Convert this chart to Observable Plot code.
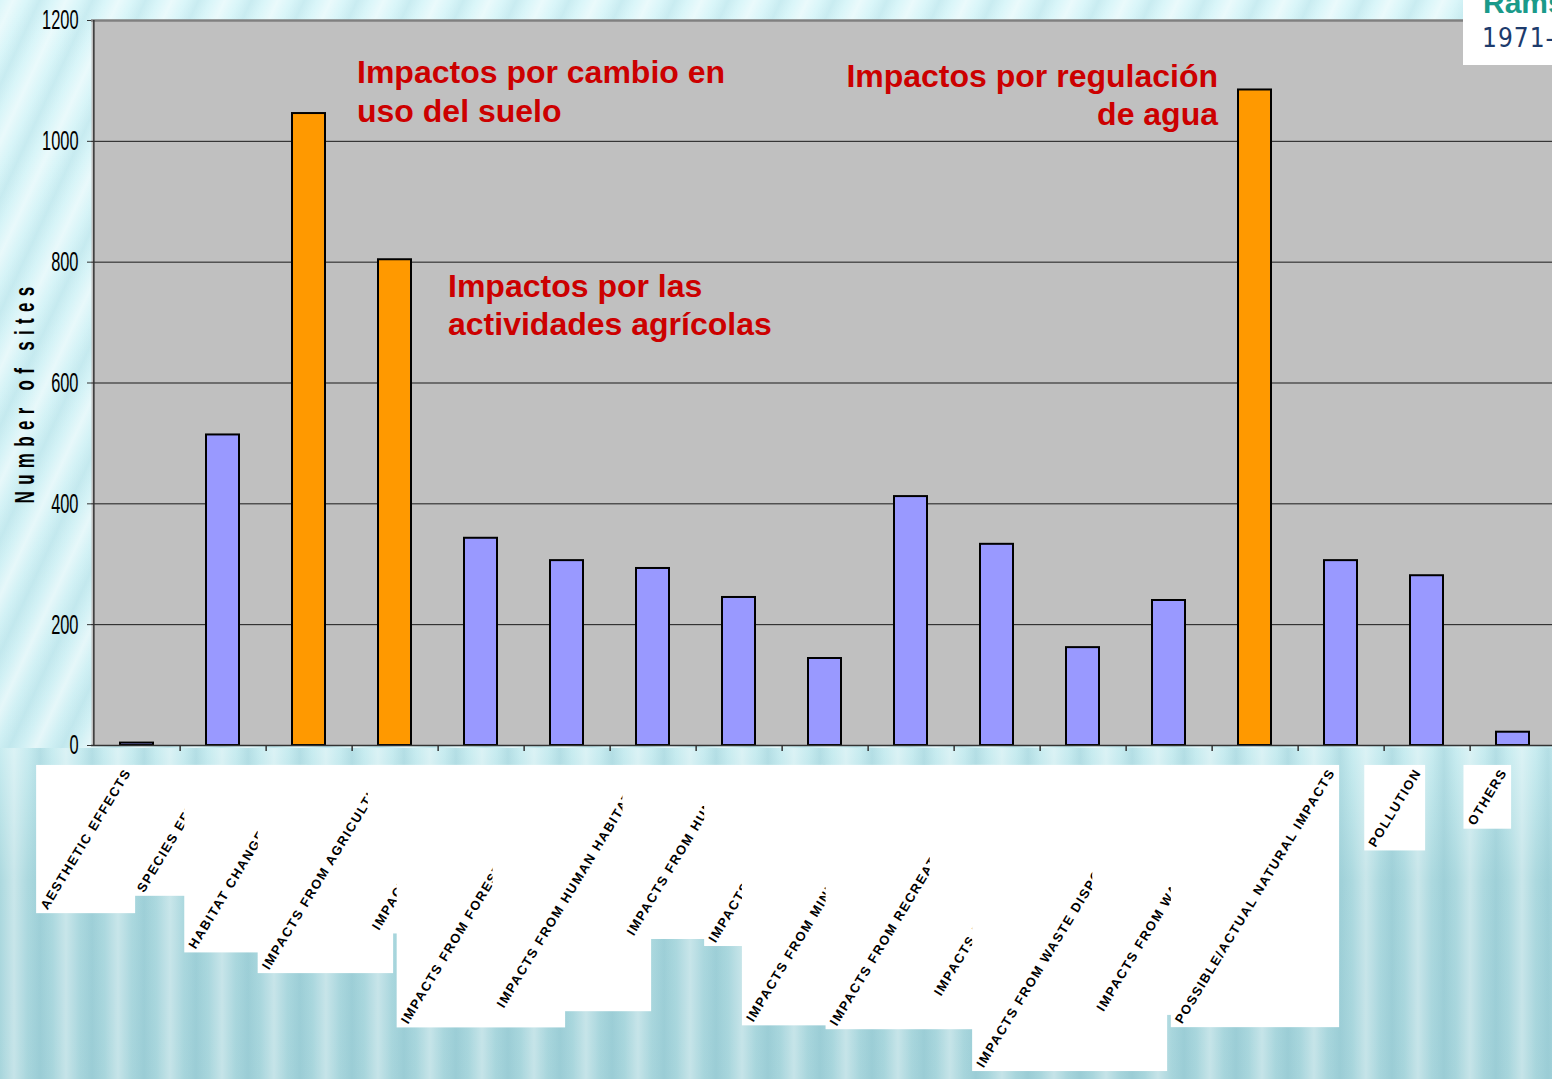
<!DOCTYPE html>
<html>
<head>
<meta charset="utf-8">
<script src="https://cdn.jsdelivr.net/npm/d3@7"></script>
<script src="https://cdn.jsdelivr.net/npm/@observablehq/plot@0.6"></script>
<style>
html, body { margin: 0; padding: 0; overflow: hidden; width: 1552px; height: 1079px; }
#bg-top { position: absolute; left: 0; top: 0; width: 1552px; height: 748px;
  background:
    repeating-linear-gradient(115deg, rgba(255,255,255,0) 0px, rgba(255,255,255,0.45) 12px, rgba(255,255,255,0) 24px, rgba(140,200,212,0.22) 36px, rgba(255,255,255,0) 48px),
    linear-gradient(#daf6f9, #d0f0f4); }
#bg-bot { position: absolute; left: 0; top: 748px; width: 1552px; height: 331px;
  background:
    repeating-linear-gradient(90deg, rgba(255,255,255,0) 0px, rgba(255,255,255,0.35) 14px, rgba(255,255,255,0) 28px, rgba(110,175,190,0.22) 40px, rgba(255,255,255,0) 52px),
    linear-gradient(#c8ecf0, #acd9df 40%, #a7d5dc); }
#chart { position: absolute; left: 0; top: 0; }
#logo { position: absolute; left: 1463px; top: 0; width: 89px; height: 65px; background: #fff; overflow: hidden; }
#logo .ram { position: absolute; left: 20px; top: -12px; font: bold 30px 'Liberation Sans Narrow', 'Liberation Sans', sans-serif; line-height: 1; color: #1a9a8a; white-space: nowrap; }
#logo .yr { position: absolute; left: 19px; top: 25px; font: 26px 'DejaVu Sans Condensed', 'DejaVu Sans', sans-serif; line-height: 1; color: #1d3b6c; letter-spacing: 1px; white-space: nowrap; }
</style>
</head>
<body>
<div id="bg-top"></div>
<div id="bg-bot"></div>
<div id="chart"></div>
<div id="logo"><div class="ram">Ramsar</div><div class="yr">1971-</div></div>
<script>
// ---- data ----
const categories = [
  "AESTHETIC EFFECTS",
  "SPECIES EFFECTS",
  "HABITAT CHANGE/DAMAGE",
  "IMPACTS FROM AGRICULTURE",
  "IMPACTS FROM FISHING",
  "IMPACTS FROM FORESTRY ACTIVITIES",
  "IMPACTS FROM HUMAN HABITATION",
  "IMPACTS FROM HUNTING",
  "IMPACTS FROM INDUSTRY",
  "IMPACTS FROM MINING / EXTRACTION",
  "IMPACTS FROM RECREATION/TOURISM",
  "IMPACTS FROM TRANSPORTATION",
  "IMPACTS FROM WASTE DISPOSAL / DUMPING",
  "IMPACTS FROM WATER REGULATION",
  "POSSIBLE/ACTUAL NATURAL IMPACTS",
  "POLLUTION",
  "OTHERS"
];
const sites = [4, 514, 1046, 804, 343, 306, 293, 245, 144, 412, 333, 162, 240, 1085, 306, 281, 22];
const highlighted = ["HABITAT CHANGE/DAMAGE", "IMPACTS FROM AGRICULTURE", "IMPACTS FROM WATER REGULATION"];
const yTicks = [0, 200, 400, 600, 800, 1000, 1200];
const gridValues = [200, 400, 600, 800, 1000];
const yTitle = "Number of sites";
const annotationText = ["Impactos por cambio en\nuso del suelo", "Impactos por las\nactividades agrícolas", "Impactos por regulación\nde agua"];
const annotationCategory = ["HABITAT CHANGE/DAMAGE", "IMPACTS FROM AGRICULTURE", "IMPACTS FROM WATER REGULATION"];
const annotationY = [1141, 788, 1135];

// ---- build ----
const data = categories.map((c, i) => ({category: c, sites: sites[i], hi: highlighted.includes(c)}));
const annotations = annotationText.map((t, i) => ({text: t, category: annotationCategory[i], y: annotationY[i]}));

const W = 1552, H = 1079, mL = 91, mT = 20, mB = 334, xEnd = 1558;
const step = (xEnd - mL) / categories.length;
const red = "#cc0000";
const font = "'Liberation Sans', Arial, sans-serif";
const annotStyle = {x: "category", y: "y", text: "text", lineAnchor: "top", lineHeight: 1.2, fontSize: 32, fontWeight: "bold", fill: red};

const plot = Plot.plot({
  width: W, height: H,
  marginLeft: mL, marginTop: mT, marginBottom: mB, marginRight: 0,
  style: {background: "transparent", fontFamily: font, overflow: "hidden"},
  x: {domain: categories, range: [mL, xEnd], paddingInner: 0.615, paddingOuter: 0.3075, axis: null},
  y: {domain: [0, 1200], axis: null},
  marks: [
    Plot.frame({fill: "#c0c0c0"}),
    Plot.ruleY(gridValues, {stroke: "#1a1a1a", strokeWidth: 1}),
    Plot.ruleY([1200], {stroke: "#808080", strokeWidth: 2.5}),
    Plot.barY(data, {x: "category", y: "sites", fill: d => d.hi ? "#ff9900" : "#9999ff", stroke: "#000", strokeWidth: 2}),
    Plot.ruleY([0], {stroke: "#333", strokeWidth: 1.5}),
    Plot.ruleX(categories, {x: d => d, y1: 0, y2: -10, dx: step / 2, stroke: "#333", strokeWidth: 1.5}),
    Plot.ruleX([categories[0]], {x: d => d, y1: 0, y2: 1200, dx: -step / 2, stroke: "#333", strokeWidth: 1.5}),
    Plot.axisY({ticks: yTicks, tickSize: 4, tickPadding: 9, fontSize: 20, tickFormat: d => String(d), stroke: "#333", label: null}),
    // text marks (order matters for post-processing below)
    Plot.text([yTitle], {frameAnchor: "left", textAnchor: "middle", dx: -66, dy: 9, rotate: -90, fontSize: 20, fontWeight: "bold", fill: "#000"}),
    Plot.text([annotations[0]], {...annotStyle, textAnchor: "start", dx: 48}),
    Plot.text([annotations[1]], {...annotStyle, textAnchor: "start", dx: 53}),
    Plot.text([annotations[2]], {...annotStyle, textAnchor: "end", dx: -37}),
    Plot.text(categories, {x: d => d, y: 0, text: d => d, rotate: -58.7, textAnchor: "end", lineAnchor: "middle",
      dx: -9, dy: 24.5, fontSize: 13, fontWeight: "bold", fill: "#000"})
  ]
});

document.getElementById("chart").append(plot);
const svg = plot.tagName.toLowerCase() === "svg" ? plot : plot.querySelector("svg");
const NS = "http://www.w3.org/2000/svg";

function stretch(t, sx, sy) {
  const tr = t.getAttribute("transform");
  if (tr) t.setAttribute("transform", tr + ` scale(${sx},${sy})`);
  else {
    const x = +t.getAttribute("x") || 0, y = +t.getAttribute("y") || 0;
    t.setAttribute("transform", `translate(${x},${y}) scale(${sx},${sy}) translate(${-x},${-y})`);
  }
}

// narrow, tall y tick labels
svg.querySelectorAll('g[aria-label="y-axis tick label"] text').forEach(t => stretch(t, 0.82, 1.4));

const textGroups = Array.from(svg.querySelectorAll('g[aria-label="text"]'));
const titleG = textGroups[0];
const labelG = textGroups[textGroups.length - 1];

// y title
if (titleG) {
  const tt = titleG.querySelector("text");
  tt.style.letterSpacing = "7.4px";
  stretch(tt, 0.85, 1.4);
}

// x labels on white boxes, each later box covering the previous label
if (labelG) {
  const texts = Array.from(labelG.querySelectorAll("text"));
  texts.forEach(t => { t.style.letterSpacing = "1.5px"; });
  const inv = labelG.getScreenCTM().inverse();
  const toLocal = (x, y) => new DOMPoint(x, y).matrixTransform(inv);
  texts.forEach(t => {
    const r = t.getBoundingClientRect();
    const p1 = toLocal(r.left - 1, r.top - 1), p2 = toLocal(r.right + 1, r.bottom + 1);
    const rect = document.createElementNS(NS, "rect");
    rect.setAttribute("x", p1.x); rect.setAttribute("y", p1.y);
    rect.setAttribute("width", p2.x - p1.x); rect.setAttribute("height", p2.y - p1.y);
    rect.setAttribute("fill", "#fff");
    rect.setAttribute("stroke", "none");
    labelG.insertBefore(rect, t);
  });
}
</script>
</body>
</html>
